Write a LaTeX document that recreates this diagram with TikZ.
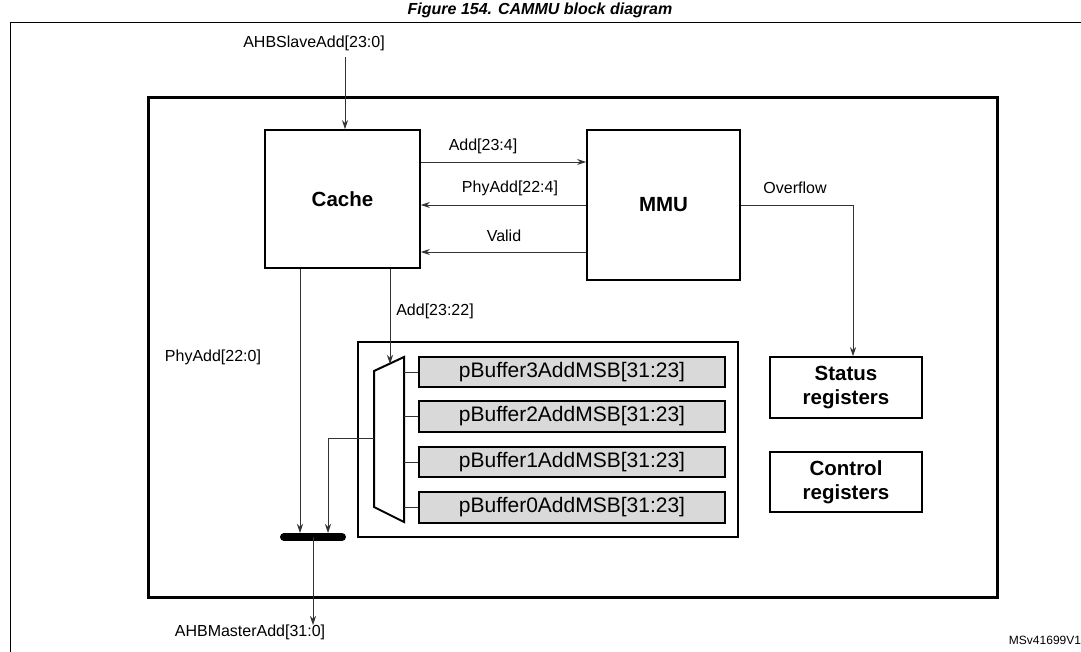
\documentclass[tikz,border=0pt]{standalone}
\usepackage{fontspec}
\setmainfont{Liberation Sans}
\usetikzlibrary{arrows.meta}
\begin{document}
\begin{tikzpicture}[x=1pt,y=-1pt,
  lbl/.style={font=\fontsize{16}{18}\selectfont,inner sep=0pt},
  blk/.style={draw,line width=1.6pt,font=\fontsize{20.5}{24}\selectfont\bfseries,align=center,inner sep=0pt},
  buf/.style={draw,line width=1.6pt,fill=black!15,font=\fontsize{21}{22}\selectfont,inner sep=0pt},
  sig/.style={draw=black!80,line width=0.8pt,-{Stealth[length=9pt,width=6pt]}},
  wire/.style={draw=black!80,line width=0.8pt}]
\useasboundingbox (0,0) rectangle (1081,652);
\node[font=\fontsize{16}{18}\selectfont\bfseries\itshape,anchor=base] (title) at (540,15) {Figure 154. CAMMU block diagram};
\draw[line width=0.8pt] (10,660) -- (10,22) -- (1090,22);
\draw[line width=3pt] (148,98) rectangle (997,597);
\node[blk,minimum width=155,minimum height=138] (cache) at (342.5,199) {Cache};
\node[blk,minimum width=153,minimum height=150] (mmu) at (663.5,205) {MMU};
\node[blk,minimum width=152,minimum height=61] (status) at (846,387.5) {Status\\registers};
\node[blk,minimum width=152,minimum height=60] (control) at (846,482) {Control\\registers};
\node[draw,line width=1.6pt,minimum width=380,minimum height=195,inner sep=0pt] (inner) at (548,439.5) {};
\node[buf,minimum width=306,minimum height=30] (b3) at (572,372) {pBuffer3AddMSB[31:23]};
\node[buf,minimum width=306,minimum height=31] (b2) at (572,416.5) {pBuffer2AddMSB[31:23]};
\node[buf,minimum width=306,minimum height=30] (b1) at (572,462) {pBuffer1AddMSB[31:23]};
\node[buf,minimum width=306,minimum height=31] (b0) at (572,507.5) {pBuffer0AddMSB[31:23]};
\draw[line width=2pt,line join=miter] (374,371) coordinate (mtl) -- (404,357) -- (404,522) -- (374,507) -- cycle;
\coordinate (mux) at (390,364);
\coordinate (muxout) at (374,438);
\foreach \b in {b3,b2,b1,b0} \draw[wire] (\b.west) -- (\b.west -| 404,0);
\draw[line width=8pt,line cap=round] (284,537) coordinate (busl) -- (342,537) coordinate (busr);
\coordinate (bus) at (313,537);
\node[lbl] (slave) at (314,43) {AHBSlaveAdd[23:0]};
\node[lbl] (master) at (250,632) {AHBMasterAdd[31:0]};
\node[font=\fontsize{12}{14}\selectfont,inner sep=0pt] (ms) at (1045,640) {MSv41699V1};
\draw[sig] (345,57) -- (cache.north -| 345,0);
\draw[sig] (cache.east |- 0,162) -- (mmu.west |- 0,162);
\node[lbl] (l1) at (483,146) {Add[23:4]};
\draw[sig] (mmu.west |- 0,205) -- (cache.east |- 0,205);
\node[lbl] (l2) at (510,188) {PhyAdd[22:4]};
\draw[sig] (mmu.west |- 0,252) -- (cache.east |- 0,252);
\node[lbl] (l3) at (504,236) {Valid};
\draw[sig] (mmu.east |- 0,205) -| (status.north -| 853,0);
\node[lbl] (l4) at (795,188) {Overflow};
\draw[sig] (cache.south -| 300,0) -- (300,533);
\node[lbl] (l5) at (213,357) {PhyAdd[22:0]};
\draw[sig] (cache.south -| 390,0) -- (mux);
\node[lbl] (l6) at (435,311) {Add[23:22]};
\draw[sig] (muxout) -| (328,533);
\draw[sig] (bus) -- (313,625);
\end{tikzpicture}
\end{document}
